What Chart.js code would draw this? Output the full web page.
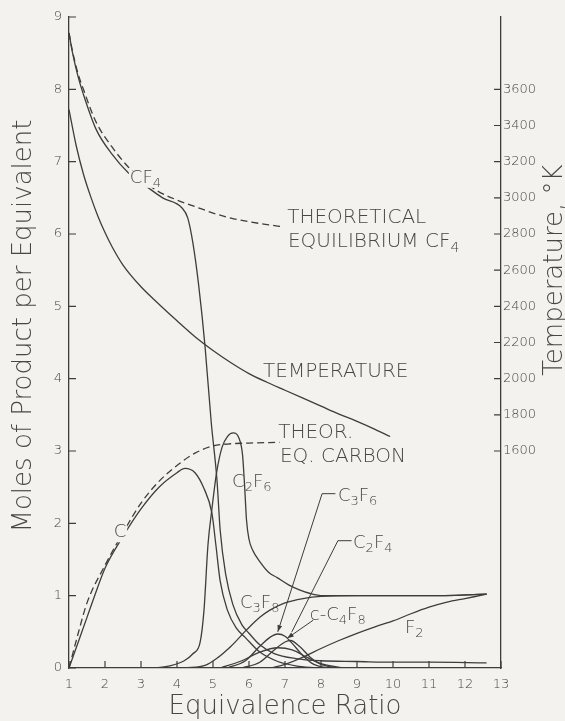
<!DOCTYPE html>
<html lang="en">
<head>
<meta charset="UTF-8">
<title>Moles of Product per Equivalent</title>
<script src="https://cdn.jsdelivr.net/npm/chart.js@4.4.1/dist/chart.umd.min.js"></script>
<style>
  html, body { margin: 0; padding: 0; background: #f4f2ee; }
  #wrap { width: 565px; height: 721px; }
</style>
</head>
<body>
<div id="wrap"><canvas id="chart" width="565" height="721"></canvas></div>
<script>
// tick values
const ratioTicks = [1, 2, 3, 4, 5, 6, 7, 8, 9, 10, 11, 12, 13];
const molesTicks = [0, 1, 2, 3, 4, 5, 6, 7, 8, 9];
const tempTicks = [1600, 1800, 2000, 2200, 2400, 2600, 2800, 3000, 3200, 3400, 3600];

// CF4 (solid) and theoretical equilibrium CF4 (dashed)
const cf4X = [1, 1.1, 1.25, 1.4, 1.75, 2.2, 2.64, 3.2, 3.6, 4.14, 4.3, 4.44, 4.6, 4.78, 4.95, 5.11, 5.2, 5.35, 5.55, 5.8, 6.0, 6.3, 6.7, 7.3, 8, 9, 10, 11, 12.6];
const cf4Y = [8.78, 8.5, 8.18, 7.93, 7.45, 7.1, 6.85, 6.64, 6.5, 6.36, 6.22, 5.88, 5.3, 4.44, 3.4, 2.6, 1.9, 1.3, 0.88, 0.6, 0.48, 0.32, 0.2, 0.13, 0.1, 0.09, 0.08, 0.08, 0.07];
const theoCf4X = [1, 1.1, 1.25, 1.4, 1.75, 2.2, 2.64, 3, 3.44, 4, 4.55, 5, 5.5, 6, 6.5, 6.94];
const theoCf4Y = [8.78, 8.52, 8.22, 8.0, 7.55, 7.2, 6.93, 6.76, 6.6, 6.47, 6.37, 6.29, 6.22, 6.17, 6.13, 6.1];

// temperature, K (right axis)
const tempX = [1, 1.2, 1.4, 1.6, 1.8, 2, 2.2, 2.5, 3, 3.5, 4, 4.5, 5, 5.5, 6, 6.5, 7, 7.5, 8, 8.5, 9, 9.5, 9.92];
const tempK = [3488, 3288, 3132, 3008, 2900, 2808, 2728, 2628, 2508, 2412, 2320, 2232, 2156, 2088, 2028, 1980, 1936, 1892, 1848, 1804, 1764, 1720, 1680];

// carbon (solid) and theoretical equilibrium carbon (dashed)
const carbonX = [1, 1.25, 1.5, 1.67, 2, 2.5, 3, 3.5, 4, 4.22, 4.5, 4.75, 4.97, 5.08, 5.2, 5.4, 5.65, 5.9, 6.3, 6.8, 7.3, 7.9];
const carbonY = [0, 0.35, 0.7, 0.94, 1.38, 1.82, 2.2, 2.5, 2.7, 2.76, 2.7, 2.48, 2.14, 1.7, 1.2, 0.8, 0.55, 0.42, 0.22, 0.09, 0.03, 0];
const theoCX = [1, 1.25, 1.5, 2, 2.5, 3, 3.5, 4, 4.5, 5, 5.5, 6, 6.85];
const theoCY = [0, 0.47, 0.9, 1.42, 1.87, 2.28, 2.58, 2.8, 2.97, 3.07, 3.1, 3.11, 3.12];

// C2F6
const c2f6X = [3.4, 3.8, 4.2, 4.45, 4.64, 4.75, 4.86, 4.97, 5.1, 5.25, 5.4, 5.56, 5.72, 5.82, 5.88, 5.93, 6.0, 6.1, 6.3, 6.55, 6.78, 7.1, 7.4, 7.7, 8.05, 9, 10, 11, 12.6];
const c2f6Y = [0, 0.03, 0.1, 0.2, 0.35, 0.8, 1.7, 2.2, 2.7, 3.05, 3.2, 3.25, 3.18, 2.95, 2.5, 2.05, 1.78, 1.63, 1.47, 1.32, 1.25, 1.15, 1.08, 1.03, 1.0, 1.0, 1.0, 1.0, 1.02];

// curve rising to 1 (C3F8 label), small peaks, F2
const c3f8X = [4.2, 4.8, 5.1, 5.5, 5.94, 6.3, 6.58, 7.0, 7.5, 8.0, 9, 10, 11, 12.6];
const c3f8Y = [0, 0.04, 0.13, 0.3, 0.53, 0.7, 0.8, 0.9, 0.96, 0.99, 1.0, 1.0, 1.0, 1.02];
const c3f6X = [5.4, 5.9, 6.3, 6.6, 6.8, 7.0, 7.2, 7.5, 7.8, 8.2];
const c3f6Y = [0, 0.1, 0.3, 0.43, 0.47, 0.44, 0.34, 0.17, 0.05, 0];
const cC4f8X = [5.8, 6.3, 6.7, 7.0, 7.15, 7.4, 7.7, 8.0, 8.5];
const cC4f8Y = [0, 0.08, 0.25, 0.36, 0.38, 0.3, 0.15, 0.05, 0];
const c2f4X = [5.2, 5.8, 6.3, 6.8, 7.2, 7.6, 8.0, 8.6];
const c2f4Y = [0, 0.1, 0.22, 0.28, 0.25, 0.15, 0.06, 0];
const f2X = [6.6, 7, 7.5, 8, 8.5, 9, 9.5, 10, 10.5, 11, 11.5, 12, 12.6];
const f2Y = [0, 0.05, 0.15, 0.27, 0.38, 0.48, 0.57, 0.65, 0.75, 0.84, 0.91, 0.96, 1.02];

// in-plot labels (left edge, vertical middle) in data units
const labelText = ['CF4', 'THEORETICAL', 'EQUILIBRIUM CF4', 'TEMPERATURE', 'THEOR.', 'EQ. CARBON', 'C', 'C2F6', 'C3F6', 'C2F4', 'C3F8', 'c-C4F8', 'F2'];
const labelX = [2.69, 7.06, 7.08, 6.39, 6.81, 6.86, 2.24, 5.53, 8.47, 8.89, 5.75, 7.69, 10.33];
const labelY = [6.77, 6.22, 5.89, 4.09, 3.25, 2.92, 1.87, 2.57, 2.38, 1.73, 0.9, 0.73, 0.55];

const INK = '#3d3d3d';
const TEXT = '#474747';
const BG = '#f4f2ee';
const FONT = "'DejaVu Sans', sans-serif";
const masked = new Set(['CF4', 'C']);

function series(xs, ys, opts) {
  return Object.assign({
    data: xs.map((x, i) => ({ x: x, y: ys[i] })),
    showLine: true,
    borderColor: INK,
    borderWidth: 1.3,
    pointRadius: 0,
    cubicInterpolationMode: 'monotone',
    yAxisID: 'y'
  }, opts || {});
}

// digits become subscripts; returns the drawn width
function drawFormula(ctx, text, x, y, size, measureOnly) {
  let cx = x;
  (text.match(/[0-9]+|[^0-9]+/g) || []).forEach(p => {
    const sub = /^[0-9]+$/.test(p);
    ctx.font = '300 ' + (sub ? Math.round(size * 0.72) : size) + 'px ' + FONT;
    if (!measureOnly) ctx.fillText(p, cx, sub ? y + size * 0.32 : y);
    cx += ctx.measureText(p).width;
  });
  return cx - x;
}

function arrowHead(ctx, x0, y0, x1, y1) {
  const a = Math.atan2(y1 - y0, x1 - x0);
  ctx.beginPath();
  ctx.moveTo(x1, y1);
  ctx.lineTo(x1 - 7 * Math.cos(a - 0.35), y1 - 7 * Math.sin(a - 0.35));
  ctx.lineTo(x1 - 7 * Math.cos(a + 0.35), y1 - 7 * Math.sin(a + 0.35));
  ctx.closePath();
  ctx.fill();
}

const decor = {
  id: 'decor',
  beforeDraw(chart) {
    const ctx = chart.ctx;
    ctx.save();
    ctx.fillStyle = BG;
    ctx.fillRect(0, 0, chart.width, chart.height);
    ctx.restore();
  },
  afterDraw(chart) {
    const { ctx, chartArea: a, scales } = chart;
    const sx = scales.x, sy = scales.y, st = scales.y2;
    ctx.save();
    ctx.strokeStyle = INK;
    ctx.fillStyle = INK;
    ctx.lineWidth = 1.2;

    // inward tick marks
    ctx.beginPath();
    ratioTicks.forEach(v => { const p = sx.getPixelForValue(v); ctx.moveTo(p, a.bottom); ctx.lineTo(p, a.bottom - 7); });
    molesTicks.forEach(v => { const p = sy.getPixelForValue(v); ctx.moveTo(a.left, p); ctx.lineTo(a.left + 7, p); });
    tempTicks.forEach(v => { const p = st.getPixelForValue(v); ctx.moveTo(a.right, p); ctx.lineTo(a.right - 7, p); });
    ctx.stroke();

    // leader lines
    const P = (x, y) => [sx.getPixelForValue(x), sy.getPixelForValue(y)];
    ctx.lineWidth = 1;
    let s, e;
    // C3F6
    s = P(8.03, 2.41); e = P(6.8, 0.5);
    ctx.beginPath(); ctx.moveTo(sx.getPixelForValue(8.4), s[1]); ctx.lineTo(s[0], s[1]); ctx.lineTo(e[0], e[1]); ctx.stroke();
    arrowHead(ctx, s[0], s[1], e[0], e[1]);
    // C2F4
    s = P(8.47, 1.76); e = P(7.19, 0.5);
    ctx.beginPath(); ctx.moveTo(sx.getPixelForValue(8.85), s[1]); ctx.lineTo(s[0], s[1]); ctx.lineTo(e[0], e[1]); ctx.stroke();
    // c-C4F8
    s = P(7.78, 0.66); e = P(7.06, 0.41);
    ctx.beginPath(); ctx.moveTo(s[0], s[1]); ctx.lineTo(e[0], e[1]); ctx.stroke();
    arrowHead(ctx, s[0], s[1], e[0], e[1]);

    // labels
    ctx.fillStyle = TEXT;
    ctx.textAlign = 'left';
    ctx.textBaseline = 'middle';
    labelText.forEach((t, i) => {
      const size = /^[A-Z. ]{5,}/.test(t) ? 20 : 18;
      const px = sx.getPixelForValue(labelX[i]);
      const py = sy.getPixelForValue(labelY[i]);
      if (masked.has(t)) {
        const w = drawFormula(ctx, t, px, py, size, true);
        ctx.fillStyle = BG;
        ctx.fillRect(px - 1, py - size * 0.42, w + 2, size * 0.95);
        ctx.fillStyle = TEXT;
      }
      drawFormula(ctx, t, px, py, size);
    });

    // axis titles
    ctx.textAlign = 'center';
    ctx.font = '300 26px ' + FONT;
    ctx.fillText('Equivalence Ratio', (a.left + a.right) / 2, 707);
    ctx.save();
    ctx.translate(24, 326);
    ctx.rotate(-Math.PI / 2);
    ctx.fillText('Moles of Product per Equivalent', 0, 0);
    ctx.restore();
    ctx.save();
    ctx.translate(555, 270);
    ctx.rotate(-Math.PI / 2);
    ctx.fillText('Temperature, \u00B0K', 0, 0);
    ctx.restore();
    ctx.restore();
  }
};

const tickFont = { family: FONT, size: 13, weight: '300' };
const axisBorder = { display: true, color: INK, width: 1.3 };
const plain = v => String(v);

new Chart(document.getElementById('chart'), {
  type: 'scatter',
  data: {
    datasets: [
      series(cf4X, cf4Y),
      series(theoCf4X, theoCf4Y, { borderDash: [7, 4] }),
      series(tempX, tempK, { yAxisID: 'y2' }),
      series(carbonX, carbonY),
      series(theoCX, theoCY, { borderDash: [7, 4] }),
      series(c2f6X, c2f6Y),
      series(c3f8X, c3f8Y),
      series(c3f6X, c3f6Y),
      series(cC4f8X, cC4f8Y),
      series(c2f4X, c2f4Y),
      series(f2X, f2Y)
    ]
  },
  options: {
    responsive: false,
    animation: false,
    devicePixelRatio: 1,
    layout: { padding: { top: 17, left: 0, right: 0, bottom: 0 } },
    plugins: { legend: { display: false }, tooltip: { enabled: false } },
    scales: {
      x: {
        type: 'linear', min: 1, max: 13,
        afterFit: s => { s.height = 53; },
        afterBuildTicks: s => { s.ticks = ratioTicks.map(v => ({ value: v })); },
        grid: { display: false, drawTicks: false },
        border: axisBorder,
        ticks: { padding: 9, font: tickFont, color: TEXT, maxRotation: 0, autoSkip: false, callback: plain }
      },
      y: {
        type: 'linear', min: 0, max: 9,
        afterFit: s => { s.width = 69; },
        afterBuildTicks: s => { s.ticks = molesTicks.map(v => ({ value: v })); },
        grid: { display: false, drawTicks: false },
        border: axisBorder,
        ticks: { padding: 7, font: tickFont, color: TEXT, autoSkip: false, callback: plain }
      },
      y2: {
        type: 'linear', position: 'right', min: 400, max: 4000,
        afterFit: s => { s.width = 64; },
        afterBuildTicks: s => { s.ticks = tempTicks.map(v => ({ value: v })); },
        grid: { display: false, drawTicks: false },
        border: axisBorder,
        ticks: { padding: 2, font: tickFont, color: TEXT, autoSkip: false, callback: plain }
      }
    }
  },
  plugins: [decor]
});
</script>
</body>
</html>
